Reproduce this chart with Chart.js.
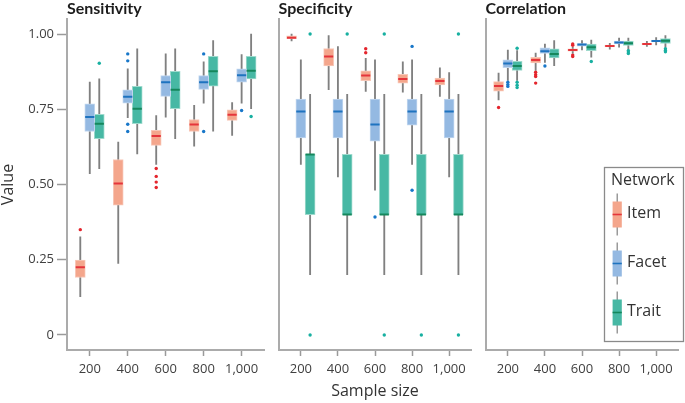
<!DOCTYPE html>
<html>
<head>
<meta charset="utf-8">
<script src="https://cdn.jsdelivr.net/npm/chart.js@4.4.1/dist/chart.umd.min.js"></script>
<style>
  html, body { margin: 0; padding: 0; background: #ffffff; }
  #wrap { position: relative; width: 685px; height: 403px; overflow: hidden; background: #fff; }
  canvas { position: absolute; top: 0; }
</style>
</head>
<body>
<div id="wrap">
  <canvas id="c1" width="271" height="403" style="left:0px"></canvas>
  <canvas id="c2" width="206" height="403" style="left:272px"></canvas>
  <canvas id="c3" width="206" height="403" style="left:479px"></canvas>
</div>
<script>
// ---------------- DATA ----------------
const sampleSizes = ['200', '400', '600', '800', '1,000'];
const networks = ['Item', 'Facet', 'Trait'];
const panelTitles = ['Sensitivity', 'Specificity', 'Correlation'];
const yTickValues = [0, 0.25, 0.5, 0.75, 1.0];
const yTickLabels = ['0', '0.25', '0.50', '0.75', '1.00'];

// each entry: [lower whisker, Q1, median, Q3, upper whisker] per sample size
const sensItem  = [[0.127,0.191,0.225,0.249,0.326],[0.238,0.431,0.503,0.583,0.641],[0.567,0.630,0.661,0.680,0.729],[0.627,0.676,0.699,0.716,0.763],[0.663,0.713,0.732,0.748,0.772]];
const sensFacet = [[0.536,0.676,0.724,0.768,0.840],[0.722,0.770,0.792,0.815,0.884],[0.724,0.793,0.840,0.862,0.934],[0.770,0.816,0.840,0.862,0.908],[0.770,0.840,0.863,0.884,0.932]];
const sensTrait = [[0.553,0.652,0.702,0.733,0.851],[0.602,0.702,0.752,0.826,0.951],[0.652,0.752,0.815,0.876,0.951],[0.677,0.827,0.876,0.926,0.978],[0.752,0.851,0.878,0.926,1.000]];
const sensItemOut  = [[0.350],[],[0.553,0.527,0.508,0.490],[],[]];
const sensFacetOut = [[],[0.934,0.911,0.700,0.676],[],[0.934,0.676],[0.746]];
const sensTraitOut = [[0.903],[],[],[],[0.726]];

const specItem  = [[0.977,0.985,0.988,0.994,1.000],[0.815,0.894,0.925,0.952,0.995],[0.809,0.845,0.862,0.878,0.919],[0.807,0.837,0.851,0.866,0.908],[0.793,0.831,0.844,0.854,0.888]];
const specFacet = [[0.567,0.655,0.743,0.784,0.914],[0.525,0.655,0.743,0.784,0.958],[0.481,0.644,0.699,0.784,0.914],[0.567,0.697,0.743,0.784,0.914],[0.525,0.655,0.743,0.784,0.872]];
const specTrait = [[0.2,0.4,0.6,0.6,0.8],[0.2,0.4,0.4,0.6,0.8],[0.2,0.4,0.4,0.6,0.8],[0.2,0.4,0.4,0.6,0.8],[0.2,0.4,0.4,0.6,0.8]];
const specItemOut  = [[],[],[0.951,0.938],[],[]];
const specFacetOut = [[],[],[0.392],[0.959,0.481],[]];
const specTraitOut = [[1.0,0.0],[1.0],[1.0,0.0],[0.0],[1.0,0.0]];

const corrItem  = [[0.781,0.810,0.827,0.842,0.870],[0.879,0.904,0.914,0.923,0.937],[0.936,0.943,0.947,0.951,0.956],[0.950,0.957,0.960,0.963,0.969],[0.959,0.964,0.967,0.969,0.976]];
const corrFacet = [[0.846,0.888,0.902,0.914,0.947],[0.906,0.936,0.943,0.954,0.967],[0.947,0.960,0.965,0.968,0.978],[0.956,0.967,0.972,0.977,0.987],[0.964,0.974,0.977,0.980,0.988]];
const corrTrait = [[0.846,0.879,0.894,0.909,0.945],[0.895,0.921,0.934,0.951,0.978],[0.923,0.945,0.956,0.967,0.980],[0.947,0.962,0.969,0.977,0.987],[0.956,0.969,0.978,0.985,0.995]];
const corrItemOut  = [[0.756],[0.873,0.865,0.859,0.837],[0.967,0.963,0.930,0.925],[],[]];
const corrFacetOut = [[0.840,0.832,0.826],[0.894],[],[],[]];
const corrTraitOut = [[0.953,0.840,0.830,0.822],[],[0.909],[0.945,0.940,0.935],[0.951,0.945,0.941]];

// ---------------- STYLE ----------------
const FONT = "'Open Sans', 'DejaVu Sans', sans-serif";
const TITLE_FONT = "Lato, 'Open Sans', sans-serif";
Chart.defaults.font.family = FONT;
Chart.defaults.color = '#404040';
const dodge = [-0.25, 0, 0.25];
const boxFill = ['#f4a68c', '#94b9e2', '#47b8a4'];
const boxEdge = ['#f8c8b8', '#c2d7ef', '#9fdacd'];
const medColor = ['#e5353b', '#1e73bf', '#15875c'];
const dotColor = ['#e4252d', '#1877c9', '#18b0a1'];
const whiskerColor = '#808080';
const axisColor = '#ababab';
const tickColor = '#9a9a9a';

function buildDatasets(stats, outs) {
  const ds = [];
  networks.forEach((name, k) => {
    const off = dodge[k];
    ds.push({ type: 'bar', label: name + ' whisker', order: 4, grouped: false,
      data: stats[k].map((s, i) => ({ x: i + 1 + off, y: [s[0], s[4]] })),
      backgroundColor: whiskerColor, borderWidth: 0, barThickness: 1.2 });
    ds.push({ type: 'bar', label: name, order: 3, grouped: false,
      data: stats[k].map((s, i) => ({ x: i + 1 + off, y: [s[1], s[3]] })),
      backgroundColor: boxFill[k], borderColor: boxEdge[k], borderWidth: 1,
      borderSkipped: false, barThickness: 10 });
    ds.push({ type: 'scatter', label: name + ' median', order: 2,
      data: stats[k].map((s, i) => ({ x: i + 1 + off, y: s[2] })),
      pointStyle: 'line', pointRadius: 4.6, pointBorderWidth: 2,
      pointBorderColor: medColor[k], pointBackgroundColor: medColor[k] });
    ds.push({ type: 'scatter', label: name + ' outliers', order: 1,
      data: outs[k].flatMap((arr, i) => arr.map(v => ({ x: i + 1 + off, y: v }))),
      pointRadius: 1.7, pointBorderWidth: 0, pointBackgroundColor: dotColor[k] });
  });
  return ds;
}

function xScale(showTitle) {
  return {
    type: 'linear', min: 0.4, max: 5.6, offset: false,
    afterBuildTicks: s => { s.ticks = sampleSizes.map((_, i) => ({ value: i + 1 })); },
    ticks: { callback: v => sampleSizes[Math.round(v) - 1], font: { size: 13 }, color: '#404040',
             padding: 5, maxRotation: 0, autoSkip: false },
    grid: { display: true, offset: false, drawOnChartArea: false, drawTicks: true, tickLength: 6, tickColor: tickColor, tickWidth: 1.5 },
    border: { display: true, color: axisColor, width: 2 },
    title: { display: showTitle, text: 'Sample size', color: '#333', font: { size: 16, lineHeight: 1.2 }, padding: { top: 0, bottom: 2 } },
    afterFit: s => { s.height = 53; }
  };
}

function yScale(first) {
  if (first) {
    return {
      type: 'linear', min: -0.05, max: 1.05,
      afterBuildTicks: s => { s.ticks = yTickValues.map(v => ({ value: v })); },
      ticks: { callback: v => yTickLabels[yTickValues.indexOf(v)], font: { size: 13 }, color: '#404040', padding: 3 },
      grid: { display: true, offset: false, drawOnChartArea: false, drawTicks: true, tickLength: 10, tickColor: tickColor, tickWidth: 1.5 },
      border: { display: true, color: axisColor, width: 2 },
      title: { display: true, text: 'Value', color: '#333', font: { size: 16, lineHeight: 1 }, padding: 0 },
      afterFit: s => { s.width = 67; }
    };
  }
  return {
    type: 'linear', min: -0.05, max: 1.05,
    ticks: { display: false },
    grid: { display: false },
    border: { display: true, color: axisColor, width: 2 },
    afterFit: s => { s.width = 0; }
  };
}

const legendPlugin = {
  id: 'boxLegend',
  afterDraw(chart) {
    const ctx = chart.ctx;
    const L = 125, T = 167, W = 80, H = 175;
    ctx.save();
    ctx.fillStyle = '#ffffff';
    ctx.fillRect(L, T, W, H);
    ctx.strokeStyle = '#8a8a8a';
    ctx.lineWidth = 1.3;
    ctx.strokeRect(L + 0.5, T + 0.5, W - 1, H - 1);
    ctx.fillStyle = '#333';
    ctx.font = '16px ' + FONT;
    ctx.textBaseline = 'middle';
    ctx.textAlign = 'left';
    ctx.fillText('Network', 132, 180);
    const cx = 138.2;
    networks.forEach((name, k) => {
      const cy = 214.5 + k * 49;
      ctx.strokeStyle = whiskerColor; ctx.lineWidth = 1.2;
      ctx.beginPath(); ctx.moveTo(cx, cy - 21); ctx.lineTo(cx, cy + 21); ctx.stroke();
      ctx.fillStyle = boxFill[k];
      ctx.fillRect(cx - 4.6, cy - 13, 9.2, 26);
      ctx.strokeStyle = medColor[k]; ctx.lineWidth = 1.6;
      ctx.beginPath(); ctx.moveTo(cx - 4.6, cy); ctx.lineTo(cx + 4.6, cy); ctx.stroke();
      ctx.fillStyle = '#333';
      ctx.fillText(name, 148, cy - 1);
    });
    ctx.restore();
  }
};

function makeChart(id, idx, stats, outs, extraPlugins) {
  const first = idx === 0;
  return new Chart(document.getElementById(id), {
    type: 'bar',
    data: { datasets: buildDatasets(stats, outs) },
    plugins: extraPlugins || [],
    options: {
      responsive: false, animation: false, devicePixelRatio: 1, events: [],
      layout: { padding: { left: first ? 0 : 2, right: 1, top: 0, bottom: 0 } },
      plugins: {
        legend: { display: false }, tooltip: { enabled: false },
        title: { display: true, text: panelTitles[idx], align: 'start', fullSize: false,
                 color: '#1c1c1c', font: { family: TITLE_FONT, size: 16, weight: 'bold', lineHeight: 1 },
                 padding: { top: 1, bottom: 2 } }
      },
      scales: { x: xScale(idx === 1), y: yScale(first) }
    }
  });
}

makeChart('c1', 0, [sensItem, sensFacet, sensTrait], [sensItemOut, sensFacetOut, sensTraitOut]);
makeChart('c2', 1, [specItem, specFacet, specTrait], [specItemOut, specFacetOut, specTraitOut]);
makeChart('c3', 2, [corrItem, corrFacet, corrTrait], [corrItemOut, corrFacetOut, corrTraitOut], [legendPlugin]);
</script>
</body>
</html>
